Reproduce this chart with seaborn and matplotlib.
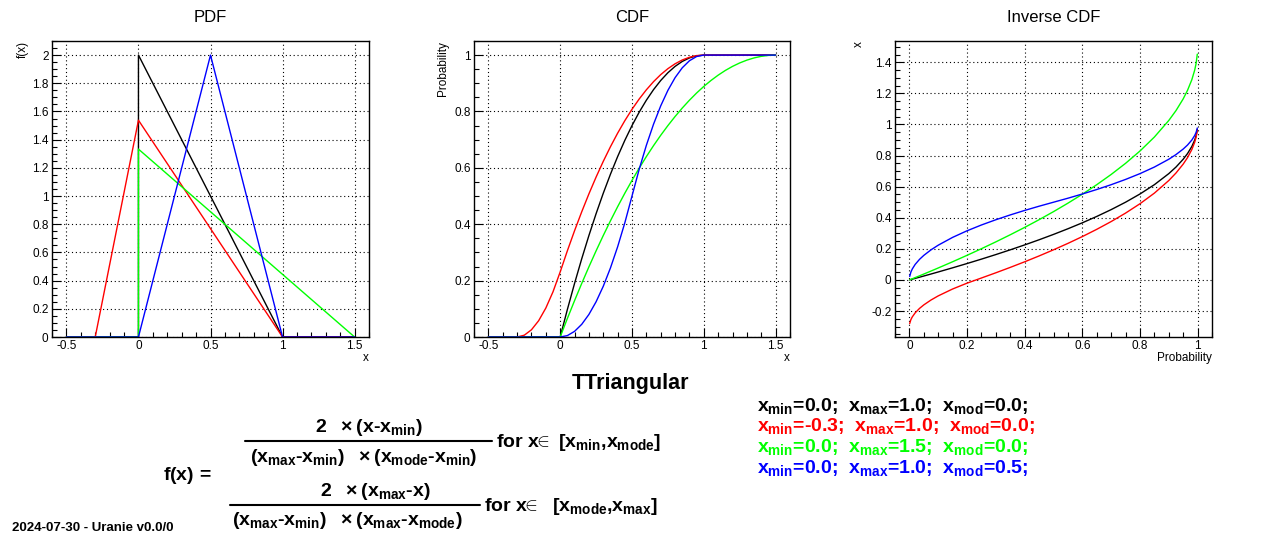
import numpy as np
import pandas as pd
import seaborn as sns
import matplotlib.pyplot as plt
from matplotlib.ticker import MultipleLocator

sns.set_theme(style="white")
plt.rcParams['font.family'] = ['Liberation Sans', 'DejaVu Sans']
plt.rcParams['mathtext.fontset'] = 'custom'
plt.rcParams['mathtext.rm'] = 'Liberation Sans:bold'
plt.rcParams['mathtext.it'] = 'Liberation Sans:bold'
plt.rcParams['mathtext.bf'] = 'Liberation Sans:bold'
plt.rcParams['mathtext.sf'] = 'Liberation Sans:bold'
plt.rcParams['axes.unicode_minus'] = True
plt.rcParams['text.color'] = 'black'

# series order and colours: (xmin, xmax, xmode)
names = ["black", "red", "green", "blue"]
colors = ["#000000", "#ff0000", "#00ff00", "#0000ff"]
params_txt = [("0.0", "1.0", "0.0"), ("-0.3", "1.0", "0.0"),
              ("0.0", "1.5", "0.0"), ("0.0", "1.0", "0.5")]

# PDF vertices
pdf_x = {
    "black": [-0.5, 0.0, 0.0, 1.0, 1.5],
    "red":   [-0.5, -0.3, 0.0, 1.0, 1.5],
    "green": [-0.5, 0.0, 0.0, 1.5],
    "blue":  [-0.5, 0.0, 0.5, 1.0, 1.5],
}
pdf_y = {
    "black": [0.0, 0.0, 2.0, 0.0, 0.0],
    "red":   [0.0, 0.0, 1.538, 0.0, 0.0],
    "green": [0.0, 0.0, 1.333, 0.0],
    "blue":  [0.0, 0.0, 2.0, 0.0, 0.0],
}

# CDF samples
cdf_x = [-0.5, -0.3, -0.25, -0.2, -0.15, -0.1, -0.05, 0.0, 0.05, 0.1, 0.15, 0.2,
         0.25, 0.3, 0.35, 0.4, 0.45, 0.5, 0.55, 0.6, 0.65, 0.7, 0.75, 0.8, 0.85,
         0.9, 0.95, 1.0, 1.05, 1.1, 1.15, 1.2, 1.25, 1.3, 1.35, 1.4, 1.45, 1.5]
cdf_y = {
    "black": [0, 0, 0, 0, 0, 0, 0, 0, 0.0975, 0.19, 0.2775, 0.36, 0.4375, 0.51,
              0.5775, 0.64, 0.6975, 0.75, 0.7975, 0.84, 0.8775, 0.91, 0.9375, 0.96,
              0.9775, 0.99, 0.9975, 1, 1, 1, 1, 1, 1, 1, 1, 1, 1, 1],
    "red":   [0, 0, 0.0064, 0.0256, 0.0577, 0.1026, 0.1603, 0.2308, 0.3058, 0.3769,
              0.4442, 0.5077, 0.5673, 0.6231, 0.675, 0.7231, 0.7673, 0.8077, 0.8442,
              0.8769, 0.9058, 0.9308, 0.9519, 0.9692, 0.9827, 0.9923, 0.9981, 1,
              1, 1, 1, 1, 1, 1, 1, 1, 1, 1],
    "green": [0, 0, 0, 0, 0, 0, 0, 0, 0.0656, 0.1289, 0.19, 0.2489, 0.3056, 0.36,
              0.4122, 0.4622, 0.51, 0.5556, 0.5989, 0.64, 0.6789, 0.7156, 0.75,
              0.7822, 0.8122, 0.84, 0.8656, 0.8889, 0.91, 0.9289, 0.9456, 0.96,
              0.9722, 0.9822, 0.99, 0.9956, 0.9989, 1],
    "blue":  [0, 0, 0, 0, 0, 0, 0, 0, 0.005, 0.02, 0.045, 0.08, 0.125, 0.18, 0.245,
              0.32, 0.405, 0.5, 0.595, 0.68, 0.755, 0.82, 0.875, 0.92, 0.955, 0.98,
              0.995, 1, 1, 1, 1, 1, 1, 1, 1, 1, 1, 1],
}

# inverse CDF samples
inv_p = [0.001, 0.005, 0.01, 0.02, 0.035, 0.05, 0.075, 0.1, 0.15, 0.2, 0.25, 0.3,
         0.35, 0.4, 0.45, 0.5, 0.55, 0.6, 0.65, 0.7, 0.75, 0.8, 0.85, 0.9, 0.925,
         0.95, 0.965, 0.98, 0.99, 0.995, 0.999]
inv_x = {
    "black": [0.0005, 0.0025, 0.005, 0.0101, 0.0177, 0.0253, 0.0382, 0.0513, 0.0781,
              0.1056, 0.134, 0.1633, 0.1938, 0.2254, 0.2584, 0.2929, 0.3292, 0.3675,
              0.4084, 0.4523, 0.5, 0.5528, 0.6127, 0.6838, 0.7261, 0.7764, 0.8129,
              0.8586, 0.9, 0.9293, 0.9684],
    "red":   [-0.2803, -0.2558, -0.2376, -0.2117, -0.1832, -0.1604, -0.129, -0.1025,
              -0.0581, -0.0207, 0.0126, 0.0461, 0.0808, 0.1168, 0.1544, 0.1938, 0.2352,
              0.2789, 0.3255, 0.3755, 0.4299, 0.4901, 0.5584, 0.6394, 0.6878, 0.7451,
              0.7867, 0.8388, 0.886, 0.9194, 0.9639],
    "green": [0.0008, 0.0038, 0.0075, 0.0151, 0.0265, 0.038, 0.0574, 0.077, 0.1171,
              0.1584, 0.201, 0.245, 0.2907, 0.3381, 0.3876, 0.4393, 0.4938, 0.5513,
              0.6126, 0.6784, 0.75, 0.8292, 0.9191, 1.0257, 1.0892, 1.1646, 1.2194,
              1.2879, 1.35, 1.3939, 1.4526],
    "blue":  [0.0224, 0.05, 0.0707, 0.1, 0.1323, 0.1581, 0.1937, 0.2236, 0.2739,
              0.3162, 0.3536, 0.3873, 0.4183, 0.4472, 0.4743, 0.5, 0.5257, 0.5528,
              0.5817, 0.6127, 0.6465, 0.6838, 0.7261, 0.7764, 0.8064, 0.8419, 0.8677,
              0.9, 0.9293, 0.95, 0.9776],
}

fig = plt.figure(figsize=(12.64, 5.4), dpi=100)
W, H = 1264, 540


def make_ax(left, top, right, bottom):
    return fig.add_axes([left / W, 1 - bottom / H, (right - left) / W, (bottom - top) / H])


ax1 = make_ax(52, 41, 369, 337)
ax2 = make_ax(474, 41, 790, 337)
ax3 = make_ax(895, 41, 1212, 337)

for name, col in zip(names, colors):
    sns.lineplot(x=pdf_x[name], y=pdf_y[name], ax=ax1, color=col, lw=1.0,
                 sort=False, estimator=None)
    sns.lineplot(x=cdf_x, y=cdf_y[name], ax=ax2, color=col, lw=1.0,
                 sort=False, estimator=None)
    sns.lineplot(x=inv_p, y=inv_x[name], ax=ax3, color=col, lw=1.0,
                 sort=False, estimator=None)


def style_ax(ax, title, xlabel, ylabel, xlim, ylim, xmaj, xmin, ymaj, ymin):
    ax.set_xlim(*xlim)
    ax.set_ylim(*ylim)
    ax.xaxis.set_major_locator(MultipleLocator(xmaj))
    ax.xaxis.set_minor_locator(MultipleLocator(xmin))
    ax.yaxis.set_major_locator(MultipleLocator(ymaj))
    ax.yaxis.set_minor_locator(MultipleLocator(ymin))
    ax.xaxis.set_major_formatter(lambda v, p: f"{v:g}")
    ax.yaxis.set_major_formatter(lambda v, p: f"{v:g}")
    ax.tick_params(which="both", direction="in", top=False, right=False,
                   bottom=True, left=True, labelsize=8.5, colors="black")
    ax.tick_params(which="major", length=6.5, width=0.8, pad=2.5)
    ax.tick_params(which="minor", length=3.3, width=0.8)
    ax.grid(True, which="major", color="black", lw=0.8, linestyle=(0, (1, 2.5)))
    for s in ax.spines.values():
        s.set_color("black")
        s.set_linewidth(1.0)
    ax.set_xlabel("")
    ax.set_ylabel("")
    ax.text(0.5, 1.081, title, transform=ax.transAxes, ha="center", va="center",
            fontsize=12)
    ax.text(1.0, -0.05, xlabel, transform=ax.transAxes, ha="right", va="top",
            fontsize=8.5)
    ax.text(ylabel[1], 1.0, ylabel[0], transform=ax.transAxes, ha="center",
            va="top", rotation=90, fontsize=8.5)


style_ax(ax1, "PDF", "x", ("f(x)", -0.092), (-0.6, 1.6), (0, 2.1),
         0.5, 0.1, 0.2, 0.05)
style_ax(ax2, "CDF", "x", ("Probability", -0.098), (-0.6, 1.6), (0, 1.05),
         0.5, 0.1, 0.2, 0.05)
style_ax(ax3, "Inverse CDF", "Probability", ("x", -0.114), (-0.05, 1.05),
         (-0.367, 1.537), 0.2, 0.05, 0.2, 0.05)

# bottom text area in pixel coordinates
tx = fig.add_axes([0, 0, 1, 1], zorder=-1)
tx.set_xlim(0, W)
tx.set_ylim(H, 0)
tx.axis("off")

tx.text(630, 383, "TTriangular", ha="center", va="center", fontsize=15.5,
        fontweight="bold")
fs = 14
tx.text(369, 432, r"$2\ \ \times(x\text{-}x_{min})$", ha="center", va="baseline", fontsize=fs)
tx.plot([245, 492], [441, 441], color="black", lw=1.5)
tx.text(364, 462, r"$(x_{max}\text{-}x_{min})\ \ \times(x_{mode}\text{-}x_{min})$",
        ha="center", va="baseline", fontsize=fs)
tx.text(496, 447, r"$for\ x\!\!\in\ [x_{min}\text{,}x_{mode}]$", ha="left",
        va="baseline", fontsize=fs)
tx.text(163, 480, r"$f(x)\ \text{=}$", ha="left", va="baseline", fontsize=fs)
tx.text(375, 496, r"$2\ \ \times(x_{max}\text{-}x)$", ha="center", va="baseline", fontsize=fs)
tx.plot([230, 480], [505, 505], color="black", lw=1.5)
tx.text(347, 525, r"$(x_{max}\text{-}x_{min})\ \ \times(x_{max}\text{-}x_{mode})$",
        ha="center", va="baseline", fontsize=fs)
tx.text(484, 511, r"$for\ x\!\!\in\ \ [x_{mode}\text{,}x_{max}]$", ha="left",
        va="baseline", fontsize=fs)

tx.text(12, 531, "2024-07-30 - Uranie v0.0/0", ha="left", va="baseline",
        fontsize=9.5, fontweight="bold")

for i, ((a, b, c), col) in enumerate(zip(params_txt, colors)):
    tx.text(757, 411 + 20.5 * i,
            rf"$x_{{min}}\text{{={a};  }}x_{{max}}\text{{={b};  }}x_{{mod}}\text{{={c};}}$",
            ha="left", va="baseline", fontsize=fs, color=col)

fig.savefig("out.png", dpi=100)
